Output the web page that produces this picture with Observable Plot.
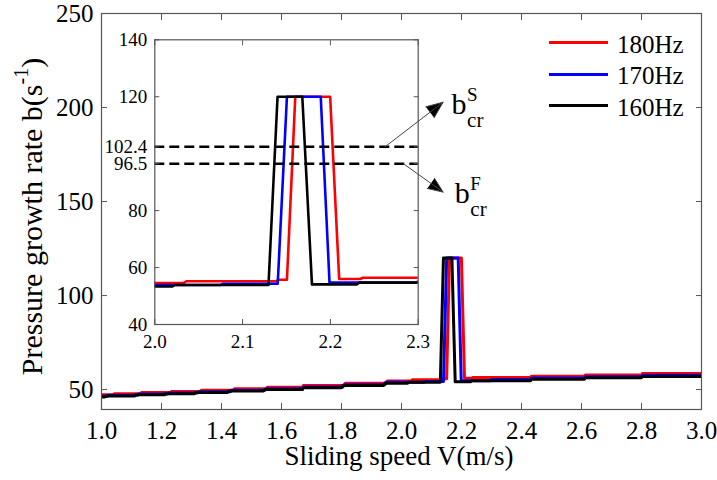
<!DOCTYPE html>
<html><head><meta charset="utf-8">
<script src="https://cdn.jsdelivr.net/npm/d3@7"></script>
<script src="https://cdn.jsdelivr.net/npm/@observablehq/plot@0.6"></script>
<style>
body{margin:0;background:#fff;}
#wrap{position:relative;width:717px;height:480px;font-family:"Liberation Serif","Times New Roman",serif;}
#wrap > svg{position:absolute;}
.lg{position:absolute;left:549px;height:25px;}
.lg .ln{position:absolute;left:0;width:59px;height:3px;}
.lg .tx{position:absolute;left:68px;top:0;font-size:25px;line-height:25px;white-space:nowrap;color:#000;}
</style></head><body><div id="wrap"></div>
<script>
// ---- data ----
const seriesNames = ["180Hz", "170Hz", "160Hz"];
const seriesColors = ["#ff0000", "#0000ff", "#000000"];
const s180 = [[1.00,47.3],[1.04,47.3],[1.043,47.8],[1.13,47.8],[1.133,48.4],[1.23,48.4],[1.233,49.0],[1.33,49.0],[1.333,49.7],[1.44,49.7],[1.443,50.4],[1.55,50.4],[1.553,51.2],[1.67,51.2],[1.673,52.2],[1.81,52.2],[1.813,53.4],[1.95,53.4],[1.953,54.6],[2.033,54.6],[2.036,55.2],[2.138,55.2],[2.141,55.7],[2.1505,55.7],[2.16,120],[2.1997,120],[2.210,56.0],[2.234,56.0],[2.237,56.4],[2.43,56.4],[2.433,57.1],[2.61,57.1],[2.613,57.8],[2.80,57.8],[2.803,58.5],[3.00,58.5]];
const s170 = [[1.00,46.5],[1.02,46.5],[1.023,47.0],[1.12,47.0],[1.123,47.6],[1.22,47.6],[1.223,48.2],[1.32,48.2],[1.323,48.9],[1.43,48.9],[1.433,49.6],[1.545,49.6],[1.548,50.4],[1.67,50.4],[1.673,51.4],[1.805,51.4],[1.808,52.6],[1.945,52.6],[1.948,53.9],[2.075,53.9],[2.078,54.3],[2.140,54.3],[2.1505,120],[2.189,120],[2.199,54.7],[2.298,54.7],[2.301,55.4],[2.43,55.4],[2.433,56.1],[2.61,56.1],[2.613,56.8],[2.80,56.8],[2.803,57.6],[3.00,57.6]];
const s160 = [[1.00,46.0],[1.01,46.0],[1.013,46.6],[1.11,46.6],[1.113,47.2],[1.21,47.2],[1.213,47.8],[1.31,47.8],[1.313,48.5],[1.42,48.5],[1.423,49.2],[1.54,49.2],[1.543,50.0],[1.67,50.0],[1.673,51.0],[1.80,51.0],[1.803,52.2],[1.94,52.2],[1.943,53.35],[2.02,53.35],[2.023,53.9],[2.1295,53.9],[2.1398,120],[2.168,120],[2.179,54.1],[2.23,54.1],[2.233,54.7],[2.43,54.7],[2.433,55.5],[2.61,55.5],[2.613,56.3],[2.80,56.3],[2.803,57.0],[3.00,57.0]];
const seriesData = [s180, s170, s160];

const xTicksMain = [1.0, 1.2, 1.4, 1.6, 1.8, 2.0, 2.2, 2.4, 2.6, 2.8, 3.0];
const yTicksMain = [50, 100, 150, 200, 250];
const xTicksInset = [2.0, 2.1, 2.2, 2.3];
const yTicksInset = [40, 60, 80, 96.5, 102.4, 120, 140];
const thresholds = [102.4, 96.5];
const arrowsData = [
  {x1: 2.2622, y1: 102.4, x2: 2.3284, y2: 118.1},
  {x1: 2.283, y1: 96.5, x2: 2.3284, y2: 86.5}
];
const bLabels = [{x: 2.338, y: 114.0, sup: "S"}, {x: 2.3417, y: 82.6, sup: "F"}];
const xLabel = "Sliding speed V(m/s)";
const yLabel = "Pressure growth rate b(s";
const yLabelSup = "-1";

// ---- helpers ----
const FRAME = "#555";
function lines(w) {
  return seriesData.map((s, i) => Plot.line(s, {x: d => d[0], y: d => d[1], stroke: seriesColors[i], strokeWidth: w, clip: true}));
}
function axes(xt, yt, xfmt, yfmt, fs, tick, padX, padY) {
  return [
    Plot.axisX(xt, {anchor: "bottom", tickSize: -tick, fill: "none", stroke: FRAME, label: null}),
    Plot.axisX(xt, {anchor: "top", tickSize: -tick, fill: "none", stroke: FRAME, label: null}),
    Plot.axisY(yt, {anchor: "left", tickSize: -tick, fill: "none", stroke: FRAME, label: null}),
    Plot.axisY(yt, {anchor: "right", tickSize: -tick, fill: "none", stroke: FRAME, label: null}),
    Plot.axisX(xt, {anchor: "bottom", tickSize: 0, tickPadding: padX, stroke: "none", fill: "black", tickFormat: xfmt, fontSize: fs, label: null}),
    Plot.axisY(yt, {anchor: "left", tickSize: 0, tickPadding: padY, stroke: "none", fill: "black", tickFormat: yfmt, fontSize: fs, label: null})
  ];
}
const wrap = document.getElementById("wrap");
const font = "'Liberation Serif', 'Times New Roman', serif";

// ---- main plot ----
const main = Plot.plot({
  width: 717, height: 480,
  marginLeft: 101, marginRight: 16, marginTop: 13, marginBottom: 71,
  style: {fontFamily: font, background: "transparent", overflow: "visible"},
  x: {domain: [1, 3]},
  y: {domain: [39.4, 250]},
  marks: [
    ...lines(3),
    ...axes(xTicksMain, yTicksMain, d3.format(".1f"), d => String(d), 25, 6, 12, 8),
    Plot.frame({stroke: FRAME, strokeWidth: 1.2}),
    Plot.text([xLabel], {text: d => d, frameAnchor: "bottom", lineAnchor: "bottom", dy: 55, dx: -2.5, fontSize: 27, fill: "black"}),
    Plot.text([yLabel], {text: d => d, frameAnchor: "left", rotate: -90, lineAnchor: "bottom", textAnchor: "middle", dx: -60, dy: 5, fontSize: 30, fill: "black"})
  ]
});
main.style.left = "0px"; main.style.top = "0px";
wrap.appendChild(main);
// superscript on the y label
{
  const ns = "http://www.w3.org/2000/svg";
  const t = [...main.querySelectorAll("text")].find(e => e.textContent === yLabel);
  if (t) {
    const sup = document.createElementNS(ns, "tspan");
    sup.setAttribute("dy", "-14"); sup.setAttribute("font-size", "20"); sup.textContent = yLabelSup;
    const cl = document.createElementNS(ns, "tspan");
    cl.setAttribute("dy", "14"); cl.textContent = ")";
    t.appendChild(sup); t.appendChild(cl);
  }
}

// ---- inset ----
const inset = Plot.plot({
  width: 390, height: 345,
  marginLeft: 50.3, marginRight: 76.3, marginTop: 19.3, marginBottom: 41,
  style: {fontFamily: font, background: "transparent", overflow: "visible"},
  x: {domain: [2.0, 2.3]},
  y: {domain: [40, 140]},
  marks: [
    Plot.frame({fill: "white", stroke: "none"}),
    ...lines(2.6),
    Plot.ruleY(thresholds, {stroke: "black", strokeWidth: 2.5, strokeDasharray: "10,5"}),
    ...axes(xTicksInset, yTicksInset, d3.format(".1f"), d => String(d), 19, 5, 10, 7.6),
    Plot.frame({stroke: FRAME, strokeWidth: 1.2}),
    Plot.arrow(arrowsData, {x1: "x1", y1: "y1", x2: "x2", y2: "y2", stroke: "#444", fill: "black", strokeWidth: 1, headLength: 27, headAngle: 45}),
    Plot.text(bLabels, {x: "x", y: "y", text: () => "b", fontSize: 30, textAnchor: "start", lineAnchor: "bottom", fill: "black"}),
    Plot.text(bLabels, {x: "x", y: "y", text: "sup", fontSize: 19, textAnchor: "start", lineAnchor: "bottom", dx: 15.5, dy: -13, fill: "black"}),
    Plot.text(bLabels, {x: "x", y: "y", text: () => "cr", fontSize: 21, textAnchor: "start", lineAnchor: "bottom", dx: 15.5, dy: 13, fill: "black"})
  ]
});
inset.style.left = "104px"; inset.style.top = "20px";
wrap.appendChild(inset);

// ---- legend ----
const rowTops = [31.5, 63.2, 94.8];
seriesNames.forEach((name, i) => {
  const row = document.createElement("div");
  row.className = "lg";
  row.style.top = rowTops[i] + "px";
  const ln = document.createElement("div");
  ln.className = "ln"; ln.style.background = seriesColors[i];
  ln.style.top = (42.7 + i * 31.65 - rowTops[i] - 1.5) + "px";
  const tx = document.createElement("div");
  tx.className = "tx"; tx.textContent = name;
  row.appendChild(ln); row.appendChild(tx);
  wrap.appendChild(row);
});
</script></body></html>
